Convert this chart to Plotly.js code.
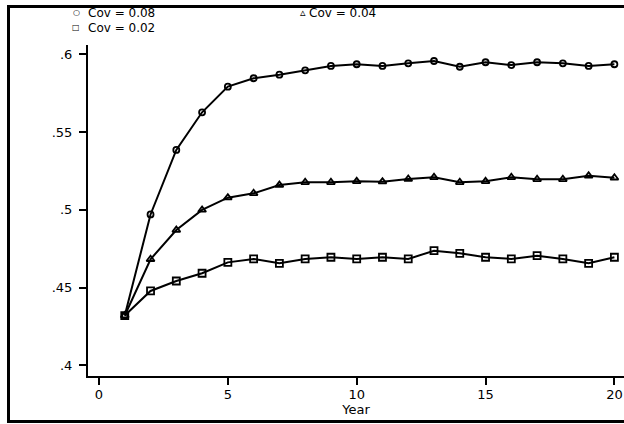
<!DOCTYPE html>
<html>
<head>
<meta charset="utf-8">
<script src="https://cdn.plot.ly/plotly-3.0.1.min.js"></script>
<style>
html,body{margin:0;padding:0;background:#fff;overflow:hidden;}
#chart{width:624px;height:424px;}
</style>
</head>
<body>
<div id="chart"></div>
<script>
var years = [1,2,3,4,5,6,7,8,9,10,11,12,13,14,15,16,17,18,19,20];
var cov08 = [0.432,0.497,0.5385,0.5627,0.5792,0.5846,0.5869,0.5897,0.5925,0.5936,0.5925,0.5942,0.5957,0.5920,0.5949,0.5931,0.5949,0.5942,0.5925,0.5936];
var cov04 = [0.432,0.4682,0.4870,0.4999,0.5078,0.5106,0.5159,0.5177,0.5177,0.5183,0.5181,0.5198,0.5209,0.5177,0.5183,0.5209,0.5196,0.5196,0.5219,0.5206];
var cov02 = [0.432,0.4478,0.4542,0.4592,0.4662,0.4684,0.4656,0.4684,0.4695,0.4684,0.4695,0.4684,0.4737,0.4720,0.4695,0.4684,0.4705,0.4684,0.4656,0.4695];
var seriesNames = ["Cov = 0.08","Cov = 0.04","Cov = 0.02"];
var xTickVals = [0,5,10,15,20];
var xTickText = ["0","5","10","15","20"];
var yTickVals = [0.4,0.45,0.5,0.55,0.6];
var yTickText = [".4",".45",".5",".55",".6"];

var W = 624, H = 424;
var mL = 88, mR = 0, mT = 45, mB = 48;
var pw = W - mL - mR, ph = H - mT - mB;
function px(x){ return (x - mL) / pw; }
function py(y){ return (H - mB - y) / ph; }

var series = [cov08, cov04, cov02];
var symbols = ["circle-open","triangle-up-open","square-open"];
var sizes = [6, 7, 7];
var traces = [];
series.forEach(function(s, i){
  traces.push({x: years, y: s, type: 'scatter', mode: 'lines', name: seriesNames[i],
    showlegend: false, line: {color: '#000', width: 2}, hoverinfo: 'skip'});
});
series.forEach(function(s, i){
  traces.push({x: years, y: s, type: 'scatter', mode: 'markers', name: seriesNames[i],
    showlegend: false, marker: {symbol: symbols[i], size: sizes[i], color: '#000', line: {color: '#000', width: 1.8}}});
});

var font = "DejaVu Sans, Arial, sans-serif";
var legSym = ['<b>○</b>', '<b>▵</b>', '<b>□</b>'];
var legSize = [8, 11, 8];
var legPos = [[76, 87, 12.7], [303, 308, 12.7], [76, 87, 27.7]];
var annotations = [];
seriesNames.forEach(function(n, i){
  var p = legPos[i];
  annotations.push({xref:'paper', yref:'paper', x: px(p[0]), y: py(p[2]), text: legSym[i],
    showarrow:false, xanchor:'center', yanchor:'middle', font:{family:font, size:legSize[i], color:'#000', weight:'bold'}});
  annotations.push({xref:'paper', yref:'paper', x: px(p[1]), y: py(p[2]), text: n,
    showarrow:false, xanchor:'left', yanchor:'middle', xshift:-1, font:{family:font, size:12, color:'#000'}});
});

var layout = {
  width: W, height: H,
  margin: {l: mL, r: mR, t: mT, b: mB, pad: 0},
  paper_bgcolor: '#fff', plot_bgcolor: '#fff',
  showlegend: false,
  font: {family: font, color: '#000'},
  xaxis: {
    range: [(mL - 99) / 25.77, (W - mR - 99) / 25.77],
    tickvals: xTickVals, ticktext: xTickText,
    ticks: 'outside', ticklen: 7, tickwidth: 2, tickcolor: '#000',
    showline: true, linewidth: 2, linecolor: '#000',
    showgrid: false, zeroline: false,
    ticklabelstandoff: -2,
    tickfont: {family: font, size: 13, color: '#000'},
    title: {text: 'Year', font: {family: font, size: 13, color: '#000'}, standoff: 0}
  },
  yaxis: {
    range: [0.4 - (376 - 365.3) / 1555, 0.6 + (54.3 - 45) / 1555],
    tickvals: yTickVals, ticktext: yTickText,
    ticks: 'outside', ticklen: 7, tickwidth: 2, tickcolor: '#000',
    showline: true, linewidth: 2, linecolor: '#000',
    showgrid: false, zeroline: false,
    ticklabelstandoff: 4,
    tickfont: {family: font, size: 13, color: '#000'}
  },
  shapes: [
    {type:'rect', xref:'paper', yref:'paper', x0: px(8.5), x1: px(700), y0: py(421.5), y1: py(6.5),
     line:{color:'#000', width:3}, fillcolor:'rgba(0,0,0,0)', layer:'above'}
  ],
  annotations: annotations
};

Plotly.newPlot('chart', traces, layout, {displayModeBar: false, staticPlot: true});
</script>
</body>
</html>
